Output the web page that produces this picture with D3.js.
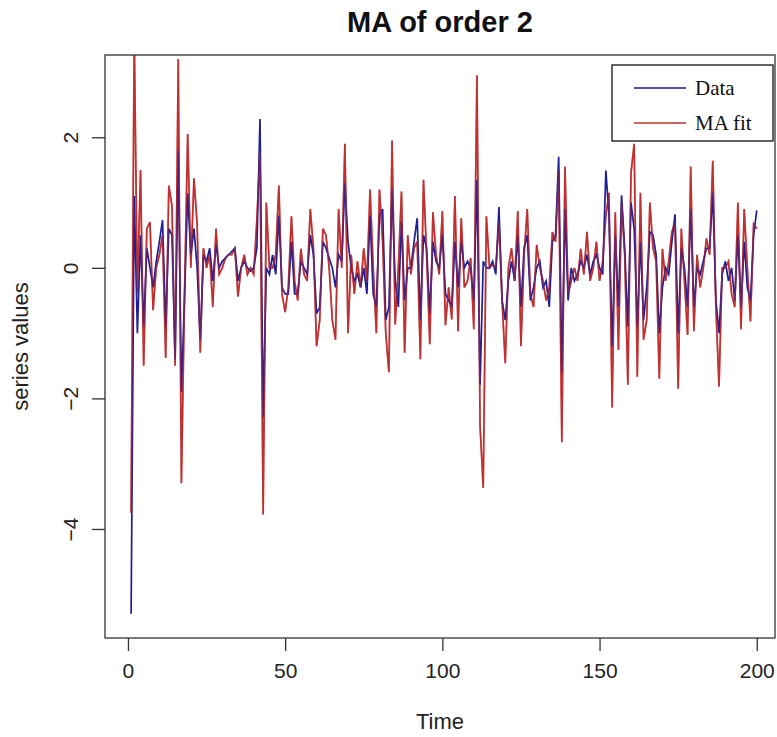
<!DOCTYPE html>
<html><head><meta charset="utf-8">
<script src="https://cdn.jsdelivr.net/npm/d3@7"></script>
<style>body{margin:0;background:#fff}</style>
</head><body>
<svg id="c" width="777" height="737"></svg>
<script>
const time = d3.range(1, 201);
const dataValues = [
-5.3,1.1,-1.0,0.5,-0.9,0.3,0.0,-0.3,0.1,0.4,
0.73,-0.9,0.6,0.5,-1.4,1.8,-1.9,-0.45,1.14,0.2,
0.6,0.0,-1.1,0.2,0.1,0.3,-0.2,0.35,0.0,0.1,
0.15,0.2,0.25,0.3,-0.2,0.0,0.1,0.0,-0.05,0.0,
0.3,2.28,-2.29,0.0,-0.1,0.2,-0.1,0.8,-0.3,-0.4,
-0.4,0.4,-0.4,-0.4,0.1,0.0,-0.1,0.5,0.2,-0.7,
-0.6,0.4,0.3,0.15,0.0,-0.3,0.2,0.1,1.3,0.4,
0.0,-0.2,-0.1,-0.3,0.0,-0.4,0.8,-0.4,-0.6,0.8,
0.9,-0.8,-0.6,1.2,-0.2,-0.6,0.7,-0.5,0.0,0.0,
0.4,0.76,-0.8,0.5,0.3,-0.7,0.4,0.1,0.0,0.5,
-0.4,-0.5,-0.6,0.4,-0.3,0.4,0.0,0.1,0.0,-0.5,
1.35,-1.79,0.1,0.0,0.0,0.1,-0.1,0.93,-0.5,-0.8,
-0.2,0.1,-0.2,0.5,-0.6,0.3,0.5,-0.5,-0.3,0.0,
0.1,-0.3,-0.2,-0.6,0.4,0.5,1.7,-1.6,0.9,-0.5,
0.0,-0.2,-0.1,0.1,0.0,0.2,-0.1,0.1,0.2,0.0,
-0.1,1.49,0.8,-1.2,0.5,-0.6,1.11,0.3,-0.9,1.0,
0.6,-0.9,0.4,-0.8,-0.3,0.55,0.5,0.2,-1.0,-0.3,
0.0,-0.1,0.4,0.82,-1.0,0.3,0.0,-0.6,0.9,-0.6,
0.0,-0.1,0.1,0.3,0.3,1.15,-0.5,-1.0,-0.1,0.1,
-0.2,0.0,-0.5,0.5,-0.6,0.4,-0.3,-0.5,0.5,0.88
];
const fitValues = [
-3.75,3.6,-0.4,1.5,-1.5,0.6,0.7,-0.65,0.0,0.2,
0.5,-1.38,1.26,0.95,-1.5,3.2,-3.3,-0.4,2.05,0.0,
1.37,0.67,-1.3,0.3,0.0,0.2,-0.6,0.6,-0.1,0.0,
0.15,0.2,0.2,0.3,-0.44,0.0,0.2,-0.1,0.0,-0.1,
0.73,1.78,-3.78,1.0,0.0,0.0,0.2,1.26,-0.4,-0.68,
-0.3,0.79,-0.2,-0.5,0.29,-0.1,-0.2,0.9,0.3,-1.2,
-0.8,0.6,0.5,0.0,-0.8,-1.1,0.9,0.0,1.9,-1.0,
0.2,-0.4,0.1,-0.3,0.3,-0.2,1.2,0.0,-1.0,1.2,
0.4,-1.0,-1.6,1.95,-0.87,0.0,1.17,-1.3,0.5,-0.1,
0.3,0.4,-1.4,1.35,0.2,-1.17,0.85,0.2,-0.1,0.87,
-0.88,-0.3,-0.79,1.1,-0.97,0.76,-0.3,-0.2,0.15,-0.94,
2.95,-2.43,-3.37,0.79,0.0,0.05,0.0,0.7,-0.5,-1.46,
0.0,0.3,-0.2,0.87,-1.2,0.2,0.9,-0.4,-0.6,0.35,
0.0,-0.2,-0.5,-0.3,0.55,0.4,1.49,-2.67,1.55,-0.4,
-0.2,0.0,-0.2,0.29,-0.1,0.55,-0.2,0.0,0.4,-0.2,
0.1,0.8,1.15,-2.14,0.85,-1.26,1.0,0.2,-1.79,1.45,
1.9,-1.67,1.15,-1.1,-0.8,1.0,0.3,0.1,-1.7,0.29,
-0.2,0.1,0.55,0.7,-1.85,0.6,-0.2,-1.03,1.55,-0.97,
0.2,-0.3,0.0,0.45,0.2,1.64,-0.6,-1.82,0.0,0.0,
0.1,-0.4,-0.6,1.0,-0.94,0.9,0.0,-0.82,0.67,0.6
];
const xTicks = [0, 50, 100, 150, 200];
const yTicks = [-4, -2, 0, 2];
const seriesNames = ["Data", "MA fit"];
const seriesColors = ["#1e1e96", "#c03030"];

const svg = d3.select("#c");
const L = 105, R = 775, T = 55, B = 638;
const x = d3.scaleLinear().domain([-7.3, 205.8]).range([L, R]);
const y = d3.scaleLinear().domain([-5.67, 3.26]).range([B, T]);

svg.append("defs").append("clipPath").attr("id", "clip")
  .append("rect").attr("x", L).attr("y", T).attr("width", R - L).attr("height", B - T);

const line = d3.line().x((d, i) => x(time[i])).y(d => y(d));
const g = svg.append("g").attr("clip-path", "url(#clip)");
g.append("path").datum(fitValues).attr("d", line)
  .attr("fill", "none").attr("stroke", seriesColors[1]).attr("stroke-width", 1.7);
g.append("path").datum(dataValues).attr("d", line)
  .attr("fill", "none").attr("stroke", seriesColors[0]).attr("stroke-width", 1.7);
g.append("path").datum(fitValues).attr("d", line)
  .attr("fill", "none").attr("stroke", seriesColors[1]).attr("stroke-width", 1.7).attr("stroke-opacity", 0.45);

// frame
svg.append("rect").attr("x", L).attr("y", T).attr("width", R - L).attr("height", B - T)
  .attr("fill", "none").attr("stroke", "#333").attr("stroke-width", 1.3);

// axes
const xAxis = svg.append("g").attr("transform", `translate(0,${B})`)
  .call(d3.axisBottom(x).tickValues(xTicks).tickSize(13).tickPadding(12).tickFormat(d3.format("d")));
xAxis.select(".domain").remove();
xAxis.selectAll("line").attr("stroke", "#333").attr("stroke-width", 1.3);
xAxis.selectAll("text").attr("font-family", "Liberation Sans, Arial, sans-serif")
  .attr("font-size", 21).attr("fill", "#222");

const yAxis = svg.append("g").attr("transform", `translate(${L},0)`)
  .call(d3.axisLeft(y).tickValues(yTicks).tickSize(13).tickFormat(d3.format("d")));
yAxis.select(".domain").remove();
yAxis.selectAll("line").attr("stroke", "#333").attr("stroke-width", 1.3);
yAxis.selectAll("text")
  .attr("font-family", "Liberation Sans, Arial, sans-serif").attr("font-size", 21).attr("fill", "#222")
  .attr("x", null).attr("dy", null)
  .attr("text-anchor", "middle")
  .attr("transform", "translate(-27,0) rotate(-90)");

// title & labels
svg.append("text").attr("x", (L + R) / 2).attr("y", 32).attr("text-anchor", "middle")
  .attr("font-family", "Liberation Sans, Arial, sans-serif").attr("font-weight", "bold")
  .attr("font-size", 29).attr("fill", "#111").text("MA of order 2");
svg.append("text").attr("x", (L + R) / 2).attr("y", 729).attr("text-anchor", "middle")
  .attr("font-family", "Liberation Sans, Arial, sans-serif")
  .attr("font-size", 22).attr("fill", "#222").text("Time");
svg.append("text").attr("transform", `translate(28,${(T + B) / 2}) rotate(-90)`).attr("text-anchor", "middle")
  .attr("font-family", "Liberation Sans, Arial, sans-serif")
  .attr("font-size", 22).attr("fill", "#222").text("series values");

// legend
const lg = svg.append("g");
lg.append("rect").attr("x", 612).attr("y", 65).attr("width", 161).attr("height", 76)
  .attr("fill", "#fff").attr("stroke", "#111").attr("stroke-width", 1.3);
seriesNames.forEach((name, i) => {
  const ly = 88 + i * 35;
  lg.append("line").attr("x1", 634).attr("x2", 686).attr("y1", ly).attr("y2", ly)
    .attr("stroke", seriesColors[i]).attr("stroke-width", 1.3);
  lg.append("text").attr("x", 695).attr("y", ly + 7)
    .attr("font-family", "Liberation Serif, Times New Roman, serif")
    .attr("font-size", 21).attr("fill", "#111").text(name);
});
</script>
</body></html>
